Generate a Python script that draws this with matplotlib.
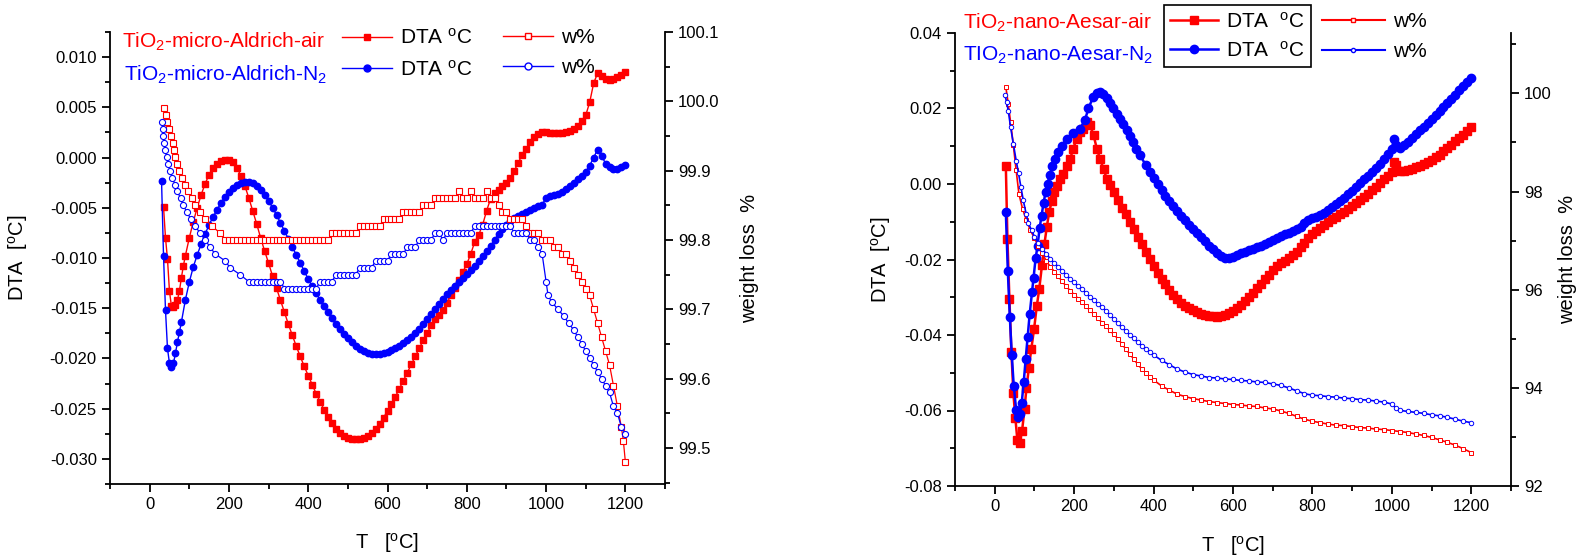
import matplotlib
matplotlib.use("Agg")
import matplotlib.pyplot as plt
from matplotlib.lines import Line2D
from matplotlib.ticker import MultipleLocator, FormatStrFormatter

plt.rcParams['font.family'] = ['Liberation Sans', 'DejaVu Sans']
plt.rcParams['mathtext.fontset'] = 'custom'
plt.rcParams['mathtext.rm'] = 'Liberation Sans'
plt.rcParams['mathtext.it'] = 'Liberation Sans:italic'
plt.rcParams['mathtext.bf'] = 'Liberation Sans:bold'

# ---------------- left panel: TiO2 micro Aldrich ----------------
micro_air_T = [35, 40, 45, 50, 55, 60, 65, 70, 75, 80, 85, 90] + list(range(100, 1210, 10))
micro_air_dta = [-0.0049, -0.0080, -0.0101, -0.0133, -0.0148, -0.0149, -0.0147, -0.0142, -0.0133, -0.0120,
                 -0.0108, -0.0098,
                 -0.0080, -0.0064, -0.0050, -0.0037, -0.0026, -0.0017, -0.0010, -0.0006, -0.0003, -0.0002,
                 -0.0002, -0.0004, -0.0010, -0.0018, -0.0028, -0.0040, -0.0053, -0.0066, -0.0080, -0.0093,
                 -0.0105, -0.0118, -0.0130, -0.0142, -0.0154, -0.0166, -0.0177, -0.0188, -0.0198, -0.0208,
                 -0.0217, -0.0226, -0.0235, -0.0243, -0.0251, -0.0258, -0.0264, -0.0270, -0.0274, -0.0277,
                 -0.0279, -0.0280, -0.0280, -0.0280, -0.0279, -0.0277, -0.0274, -0.0270, -0.0265, -0.0259,
                 -0.0252, -0.0245, -0.0238, -0.0230, -0.0222, -0.0214, -0.0206, -0.0198, -0.0190, -0.0182,
                 -0.0175, -0.0167, -0.0161, -0.0157, -0.0152, -0.0145, -0.0137, -0.0130, -0.0122, -0.0114,
                 -0.0106, -0.0096, -0.0084, -0.0077, -0.0067, -0.0053, -0.0041, -0.0035, -0.0032, -0.0028,
                 -0.0025, -0.0020, -0.0013, -0.0005, 0.0003, 0.0009, 0.0015, 0.0020, 0.0023, 0.0025,
                 0.0025, 0.0024, 0.0024, 0.0024, 0.0024, 0.0025, 0.0026, 0.0028, 0.0031, 0.0036,
                 0.0042, 0.0055, 0.0074, 0.0084, 0.0081, 0.0078, 0.0077, 0.0078, 0.0080, 0.0082,
                 0.0085]

micro_n2_T = [30, 35, 40, 45, 50, 55, 60, 65, 70, 75, 80, 90] + list(range(100, 1210, 10))
micro_n2_dta = [-0.0023, -0.0098, -0.0152, -0.0190, -0.0205, -0.0209, -0.0205, -0.0195, -0.0184, -0.0174,
                -0.0164, -0.0142,
                -0.0124, -0.0109, -0.0097, -0.0086, -0.0076, -0.0067, -0.0059, -0.0052, -0.0045, -0.0039,
                -0.0034, -0.0030, -0.0027, -0.0025, -0.0024, -0.0024, -0.0025, -0.0028, -0.0032, -0.0037,
                -0.0043, -0.0050, -0.0057, -0.0065, -0.0073, -0.0081, -0.0089, -0.0097, -0.0105, -0.0113,
                -0.0121, -0.0128, -0.0135, -0.0142, -0.0148, -0.0154, -0.0160, -0.0166, -0.0171, -0.0176,
                -0.0180, -0.0184, -0.0188, -0.0191, -0.0193, -0.0195, -0.0196, -0.0196, -0.0196, -0.0195,
                -0.0194, -0.0192, -0.0190, -0.0188, -0.0185, -0.0182, -0.0179, -0.0175, -0.0171, -0.0166,
                -0.0161, -0.0156, -0.0151, -0.0146, -0.0141, -0.0136, -0.0132, -0.0128, -0.0124, -0.0120,
                -0.0116, -0.0112, -0.0108, -0.0103, -0.0098, -0.0093, -0.0088, -0.0082, -0.0076, -0.0071,
                -0.0067, -0.0063, -0.0060, -0.0058, -0.0056, -0.0054, -0.0052, -0.0050, -0.0048, -0.0047,
                -0.0040, -0.0038, -0.0037, -0.0036, -0.0034, -0.0031, -0.0028, -0.0025, -0.0021, -0.0018,
                -0.0014, -0.0008, 0.0000, 0.0008, 0.0002, -0.0006, -0.0009, -0.0011, -0.0011, -0.0009,
                -0.0007]

micro_air_wT = [36, 42, 45, 48, 53, 58, 61, 64, 68, 75, 81, 89, 98, 106, 115, 127, 140, 157, 178] \
    + list(range(190, 1200, 10)) + [1195, 1200]
micro_air_w = [99.99, 99.98, 99.97, 99.96, 99.95, 99.94, 99.93, 99.92, 99.91, 99.90, 99.89, 99.88, 99.87,
               99.86, 99.85, 99.84, 99.83, 99.82, 99.81] \
    + [99.80] * 27 + [99.81] * 7 + [99.82] * 6 + [99.83] * 5 + [99.84] * 5 + [99.85] * 3 \
    + [99.86, 99.86, 99.86, 99.86, 99.86, 99.86, 99.87, 99.86, 99.86, 99.87, 99.86, 99.86, 99.86, 99.87,
       99.86, 99.86] \
    + [99.85, 99.84, 99.84, 99.83, 99.83, 99.83, 99.83, 99.82, 99.81, 99.81, 99.81, 99.80, 99.80, 99.80,
       99.79, 99.79, 99.78, 99.78, 99.77, 99.76, 99.75, 99.74, 99.73, 99.72, 99.70, 99.68, 99.66, 99.64,
       99.62, 99.59, 99.56, 99.53, 99.51, 99.48]

micro_n2_wT = [31, 33, 34, 36, 39, 43, 47, 51, 57, 64, 70, 78, 85, 94, 104, 115, 127, 140, 152, 165, 190,
               203, 228] + list(range(250, 1000, 10)) \
    + [1000, 1005, 1015, 1030, 1045, 1057, 1070, 1080, 1090, 1100, 1110, 1120, 1130, 1140, 1150, 1160,
       1170, 1180, 1190, 1200]
micro_n2_w = [99.97, 99.96, 99.95, 99.94, 99.93, 99.92, 99.91, 99.90, 99.89, 99.88, 99.87, 99.86, 99.85,
              99.84, 99.83, 99.82, 99.81, 99.80, 99.79, 99.78, 99.77, 99.76, 99.75] \
    + [99.74] * 9 + [99.73] * 9 + [99.74] * 4 + [99.75] * 6 + [99.76] * 4 + [99.77] * 4 + [99.78] * 4 \
    + [99.79] * 3 + [99.80] * 4 \
    + [99.81, 99.81, 99.80, 99.81, 99.81, 99.81, 99.81, 99.81, 99.81, 99.81] \
    + [99.82] * 10 + [99.81] * 4 + [99.80, 99.80, 99.79, 99.78] \
    + [99.74, 99.72, 99.71, 99.70, 99.69, 99.68, 99.67, 99.66, 99.65, 99.64, 99.63, 99.62, 99.61, 99.60,
       99.59, 99.58, 99.56, 99.55, 99.53, 99.52]

# ---------------- right panel: TiO2 nano Aesar ----------------
nano_air_T = [28, 32, 37, 42, 47, 52, 57, 63, 69, 75, 80, 86, 92, 99, 106, 112, 119, 125, 131, 137, 144,
              150, 158, 165, 173, 181, 190, 198, 206, 215, 223, 232, 240, 249, 257, 265, 274, 282, 290] \
    + list(range(300, 1010, 10)) + [1005] + list(range(1010, 1210, 10))
nano_air_dta = [0.0048, -0.0146, -0.0305, -0.0445, -0.0554, -0.0620, -0.0678, -0.0685, -0.0653, -0.0596,
                -0.0540, -0.0487, -0.0438, -0.0385, -0.0323, -0.0279, -0.0215, -0.0160, -0.0115, -0.0075,
                -0.0044, -0.0022, -0.0004, 0.0014, 0.0027, 0.0049, 0.0067, 0.0094, 0.0120, 0.0138,
                0.0147, 0.0165, 0.0156, 0.0129, 0.0094, 0.0067, 0.0040, 0.0014, -0.0003,
                -0.0021, -0.0043, -0.0063, -0.0080, -0.0100, -0.0119, -0.0140, -0.0160, -0.0180, -0.0200,
                -0.0218, -0.0235, -0.0251, -0.0266, -0.0280, -0.0293, -0.0304, -0.0314, -0.0322, -0.0329,
                -0.0335, -0.0340, -0.0344, -0.0347, -0.0349, -0.0350, -0.0351, -0.0350, -0.0347, -0.0342,
                -0.0336, -0.0328, -0.0320, -0.0310, -0.0299, -0.0288, -0.0276, -0.0264, -0.0252, -0.0240,
                -0.0228, -0.0218, -0.0210, -0.0203, -0.0196, -0.0188, -0.0179, -0.0168, -0.0156, -0.0144,
                -0.0133, -0.0124, -0.0116, -0.0108, -0.0101, -0.0094, -0.0087, -0.0080, -0.0073, -0.0066,
                -0.0059, -0.0051, -0.0043, -0.0035, -0.0026, -0.0017, -0.0008, 0.0002, 0.0012, 0.0022,
                0.0032, 0.0058,
                0.0050, 0.0034, 0.0035, 0.0038, 0.0041, 0.0045, 0.0049, 0.0054, 0.0059, 0.0064,
                0.0071, 0.0078, 0.0087, 0.0095, 0.0104, 0.0113, 0.0122, 0.0131, 0.0141, 0.0152]

nano_n2_T = [28, 33, 38, 43, 48, 54, 59, 64, 68, 73, 78, 83, 88, 94, 98, 103, 108, 113, 118, 123, 128, 133,
             139, 145, 152, 160, 169, 181, 198, 215, 227, 236, 248, 257, 265, 273, 282, 290, 299, 308, 316,
             324, 332, 340, 349, 357, 366] + list(range(380, 1010, 10)) + [1005] + list(range(1010, 1210, 10))
nano_n2_dta = [-0.0075, -0.0230, -0.0351, -0.0454, -0.0536, -0.0598, -0.0616, -0.0609, -0.0580, -0.0525,
               -0.0463, -0.0405, -0.0345, -0.0286, -0.0248, -0.0197, -0.0163, -0.0117, -0.0084, -0.0050,
               -0.0022, 0.0001, 0.0024, 0.0049, 0.0067, 0.0085, 0.0101, 0.0120, 0.0134, 0.0147,
               0.0169, 0.0200, 0.0231, 0.0240, 0.0244, 0.0238, 0.0227, 0.0214, 0.0200, 0.0186,
               0.0173, 0.0158, 0.0142, 0.0127, 0.0111, 0.0094, 0.0076,
               0.0051, 0.0033, 0.0016, -0.0001, -0.0016, -0.0031, -0.0045, -0.0058, -0.0071, -0.0084,
               -0.0096, -0.0108, -0.0119, -0.0130, -0.0141, -0.0152, -0.0163, -0.0173, -0.0182, -0.0190,
               -0.0195, -0.0196, -0.0193, -0.0188, -0.0183, -0.0179, -0.0175, -0.0171, -0.0167, -0.0163,
               -0.0159, -0.0154, -0.0148, -0.0142, -0.0137, -0.0133, -0.0129, -0.0125, -0.0120, -0.0113,
               -0.0104, -0.0096, -0.0091, -0.0088, -0.0083, -0.0077, -0.0070, -0.0062, -0.0054, -0.0045,
               -0.0036, -0.0027, -0.0018, -0.0008, 0.0002, 0.0012, 0.0022, 0.0032, 0.0043, 0.0054,
               0.0066, 0.0079, 0.0092, 0.0118,
               0.0102, 0.0095, 0.0103, 0.0112, 0.0122, 0.0132, 0.0142, 0.0152, 0.0162, 0.0172,
               0.0182, 0.0193, 0.0204, 0.0215, 0.0226, 0.0237, 0.0248, 0.0259, 0.0270, 0.0281]

nano_air_wT = [28, 34, 40, 47, 54, 61, 70, 80, 90] + list(range(100, 410, 10)) + list(range(420, 1210, 20))
nano_air_w = [100.13, 99.79, 99.41, 98.94, 98.43, 97.95, 97.65, 97.41, 97.21,
              97.05, 96.89, 96.74, 96.58, 96.47, 96.37, 96.27, 96.17, 96.07, 95.98,
              95.90, 95.82, 95.75, 95.66, 95.58, 95.50, 95.42, 95.33, 95.26, 95.17,
              95.09, 95.00, 94.90, 94.79, 94.69, 94.59, 94.48, 94.39, 94.31, 94.23, 94.16,
              94.04, 93.95, 93.87, 93.82, 93.78, 93.75, 93.72, 93.70, 93.68, 93.66,
              93.65, 93.63, 93.62, 93.59, 93.57, 93.53, 93.48, 93.42, 93.36, 93.32,
              93.29, 93.26, 93.24, 93.23, 93.21, 93.19, 93.18, 93.16, 93.15, 93.13,
              93.11, 93.09, 93.06, 93.03, 92.99, 92.94, 92.89, 92.83, 92.76, 92.68]

nano_n2_wT = [26, 30, 34, 40, 47, 54, 60, 66, 72, 79, 85, 93] + list(range(100, 410, 10)) \
    + list(range(420, 1010, 20)) + [1010, 1020] + list(range(1040, 1210, 20))
nano_n2_w = [99.96, 99.82, 99.65, 99.31, 98.97, 98.63, 98.37, 98.09, 97.82, 97.55, 97.35, 97.21,
             97.08, 96.95, 96.83, 96.73, 96.63, 96.54, 96.47, 96.38, 96.30, 96.22,
             96.15, 96.07, 96.01, 95.93, 95.85, 95.78, 95.71, 95.65, 95.57, 95.49,
             95.40, 95.32, 95.23, 95.16, 95.08, 95.01, 94.93, 94.86, 94.80, 94.73, 94.67,
             94.56, 94.47, 94.38, 94.32, 94.27, 94.24, 94.21, 94.20, 94.18, 94.17,
             94.15, 94.14, 94.12, 94.11, 94.08, 94.05, 94.00, 93.94, 93.88, 93.85,
             93.84, 93.82, 93.81, 93.79, 93.78, 93.76, 93.75, 93.73, 93.71, 93.67,
             93.59, 93.54,
             93.52, 93.50, 93.48, 93.45, 93.43, 93.40, 93.36, 93.32, 93.29]

RED = '#ff0000'
BLUE = '#0000ff'
TICK_FS = 12
LABEL_FS = 14.5
deg = r'$^{\rm o}$'


def style_axes(ax, axw):
    for a in (ax, axw):
        a.spines['top'].set_visible(False)
        for s in a.spines.values():
            s.set_linewidth(1.3)
    ax.spines['right'].set_visible(False)
    axw.spines['left'].set_visible(False)
    axw.spines['bottom'].set_visible(False)
    ax.tick_params(axis='both', which='both', direction='out', top=False, right=False,
                   labelsize=TICK_FS, width=1.3)
    axw.tick_params(axis='y', which='both', direction='out', labelsize=TICK_FS, width=1.3)
    for a in (ax, axw):
        a.tick_params(which='major', length=6)
        a.tick_params(which='minor', length=3.5)
    ax.set_xlim(-100, 1300)
    ax.xaxis.set_major_locator(MultipleLocator(200))
    ax.xaxis.set_minor_locator(MultipleLocator(100))
    ax.set_xlabel('T   [' + deg + 'C]', fontsize=LABEL_FS)
    ax.xaxis.set_label_coords(0.5, -0.105)
    ax.set_ylabel('DTA  [' + deg + 'C]', fontsize=LABEL_FS)
    axw.set_ylabel('weight loss  %', fontsize=LABEL_FS)


fig = plt.figure(figsize=(15.86, 5.6), dpi=100)

# left panel
ax1 = fig.add_axes([110 / 1586, 1 - 484 / 560, 555 / 1586, 452 / 560])
ax1w = ax1.twinx()
style_axes(ax1, ax1w)
ax1.plot(micro_air_T, micro_air_dta, color=RED, lw=1, marker='s', ms=4.2, mec=RED, mfc=RED)
ax1.plot(micro_n2_T, micro_n2_dta, color=BLUE, lw=1, marker='o', ms=4.6, mec=BLUE, mfc=BLUE)
ax1w.plot(micro_air_wT, micro_air_w, color=RED, lw=0.9, marker='s', ms=4.2, mec=RED, mfc='white', mew=0.8)
ax1w.plot(micro_n2_wT, micro_n2_w, color=BLUE, lw=0.9, marker='o', ms=4.4, mec=BLUE, mfc='white', mew=0.8)
ax1.set_ylim(-0.0325, 0.0125)
ax1.yaxis.set_major_locator(MultipleLocator(0.005))
ax1.yaxis.set_minor_locator(MultipleLocator(0.0025))
ax1.yaxis.set_major_formatter(FormatStrFormatter('%.3f'))
ax1.yaxis.set_label_coords(-0.145, 0.5)
ax1w.set_ylim(99.448, 100.1)
ax1w.yaxis.set_major_locator(MultipleLocator(0.1))
ax1w.yaxis.set_minor_locator(MultipleLocator(0.05))
ax1w.yaxis.set_major_formatter(FormatStrFormatter('%.1f'))
ax1w.yaxis.set_label_coords(1.135, 0.5)

# right panel
ax2 = fig.add_axes([955 / 1586, 1 - 486 / 560, 556 / 1586, 453 / 560])
ax2w = ax2.twinx()
style_axes(ax2, ax2w)
ax2.plot(nano_air_T, nano_air_dta, color=RED, lw=1.8, marker='s', ms=5.2, mec=RED, mfc=RED)
ax2.plot(nano_n2_T, nano_n2_dta, color=BLUE, lw=1.8, marker='o', ms=6, mec=BLUE, mfc=BLUE)
ax2w.plot(nano_air_wT, nano_air_w, color=RED, lw=1.2, marker='s', ms=3, mec=RED, mfc='white', mew=0.7)
ax2w.plot(nano_n2_wT, nano_n2_w, color=BLUE, lw=1.2, marker='o', ms=3.2, mec=BLUE, mfc='white', mew=0.7)
ax2.set_ylim(-0.08, 0.04)
ax2.yaxis.set_major_locator(MultipleLocator(0.02))
ax2.yaxis.set_minor_locator(MultipleLocator(0.01))
ax2.yaxis.set_major_formatter(FormatStrFormatter('%.2f'))
ax2.yaxis.set_label_coords(-0.112, 0.5)
ax2w.set_ylim(92, 101.23)
ax2w.yaxis.set_major_locator(MultipleLocator(2))
ax2w.yaxis.set_minor_locator(MultipleLocator(1))
ax2w.yaxis.set_label_coords(1.085, 0.5)

# sample names
fig.text(122 / 1586, 1 - 42 / 560, r'TiO$_2$-micro-Aldrich-air', color=RED, fontsize=15, va='center')
fig.text(124 / 1586, 1 - 75 / 560, r'TiO$_2$-micro-Aldrich-N$_2$', color=BLUE, fontsize=15, va='center')
fig.text(963 / 1586, 1 - 23 / 560, r'TiO$_2$-nano-Aesar-air', color=RED, fontsize=15, va='center')
fig.text(963 / 1586, 1 - 55 / 560, r'TIO$_2$-nano-Aesar-N$_2$', color=BLUE, fontsize=15, va='center')

# legends
leg_kw = dict(loc='upper left', fontsize=15, borderaxespad=0, handletextpad=0.4)
fig.legend([Line2D([], [], color=RED, lw=1, marker='s', ms=5),
            Line2D([], [], color=BLUE, lw=1, marker='o', ms=5)],
           ['DTA ' + deg + 'C', 'DTA ' + deg + 'C'], bbox_to_anchor=(342 / 1586, 1 - 28 / 560),
           frameon=False, handlelength=2.4, labelspacing=0.55, borderpad=0, **leg_kw)
fig.legend([Line2D([], [], color=RED, lw=1, marker='s', ms=5, mfc='white'),
            Line2D([], [], color=BLUE, lw=1, marker='o', ms=5, mfc='white')],
           ['w%', 'w%'], bbox_to_anchor=(503 / 1586, 1 - 28 / 560),
           frameon=False, handlelength=2.4, labelspacing=0.55, borderpad=0, **leg_kw)
leg2 = fig.legend([Line2D([], [], color=RED, lw=1.8, marker='s', ms=6),
                   Line2D([], [], color=BLUE, lw=1.8, marker='o', ms=6)],
                  ['DTA  ' + deg + 'C', 'DTA  ' + deg + 'C'], bbox_to_anchor=(1164 / 1586, 1 - 5 / 560),
                  frameon=True, fancybox=False, edgecolor='black', framealpha=1,
                  handlelength=2.3, labelspacing=0.45, borderpad=0.3, **leg_kw)
leg2.get_frame().set_linewidth(1.2)
fig.legend([Line2D([], [], color=RED, lw=1.5, marker='s', ms=3, mfc='white'),
            Line2D([], [], color=BLUE, lw=1.5, marker='o', ms=3, mfc='white')],
           ['w%', 'w%'], bbox_to_anchor=(1322 / 1586, 1 - 12 / 560),
           frameon=False, handlelength=3.0, labelspacing=0.55, borderpad=0, **leg_kw)

fig.savefig('out.png', dpi=100)
